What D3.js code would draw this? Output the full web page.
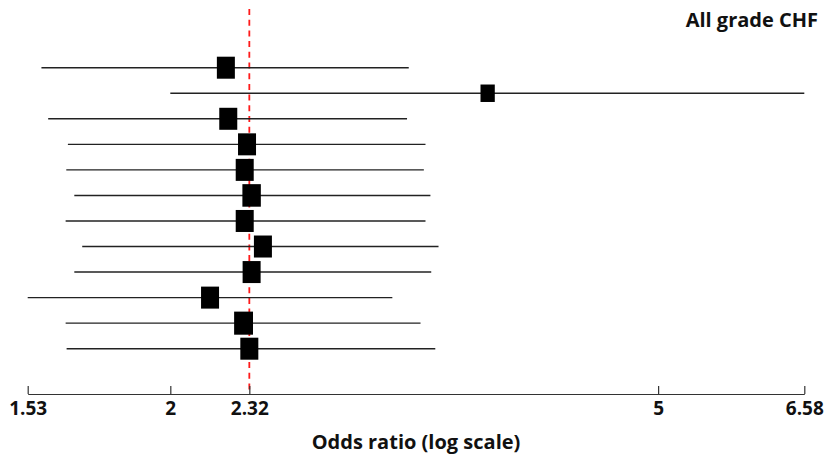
<!DOCTYPE html>
<html>
<head>
<meta charset="utf-8">
<script src="https://cdn.jsdelivr.net/npm/d3@7"></script>
<style>
  body { margin: 0; background: #fff; }
  svg { display: block; font-family: "Open Sans", Lato, sans-serif; }
  .ci { stroke: #222; stroke-width: 1.4; }
  .box { fill: #000; }
  .ref { stroke: #ff1a1a; stroke-width: 1.8; stroke-dasharray: 6 4.7; }
  .axis path, .axis line { stroke: #333; stroke-width: 1.2; }
  .axis text { font-family: "Open Sans", sans-serif; font-weight: 700; font-size: 19px; fill: #111; }
  .lbl { font-weight: 700; fill: #111; }
</style>
</head>
<body>
<svg id="forest" width="827" height="454"></svg>
<script>
// 数据
const rows    = ['1', '2', '3', '4', '5', '6', '7', '8', '9', '10', '11', '12'];
const orValue = [2.22, 3.63, 2.23, 2.31, 2.30, 2.33, 2.30, 2.38, 2.33, 2.155, 2.295, 2.32];
const ciLow   = [1.57, 2.00, 1.59, 1.65, 1.645, 1.67, 1.643, 1.695, 1.67, 1.53, 1.643, 1.646];
const ciHigh  = [3.13, 6.58, 3.12, 3.23, 3.22, 3.26, 3.23, 3.31, 3.265, 3.035, 3.20, 3.29];
const weights = [1, 0.63, 1, 1, 1, 1.05, 1, 1, 1, 1, 1.1, 1];
const pooled  = 2.32;
const tickVals = [1.53, 2, 2.32, 5, 6.58];

const data = rows.map((r, i) => ({
  row: r, or: orValue[i], lo: ciLow[i], hi: ciHigh[i], w: weights[i]
}));

const svg = d3.select('#forest');

const x = d3.scaleLog()
  .domain([1.53, 6.58])
  .range([27.7, 804.3]);
const y = d3.scalePoint()
  .domain(rows)
  .range([67.7, 348.7]);
const axisY = 394;

// 参考线
svg.append('line')
  .attr('class', 'ref')
  .attr('x1', x(pooled)).attr('x2', x(pooled))
  .attr('y1', 9).attr('y2', axisY);

// 置信区间
svg.selectAll('.ci')
  .data(data)
  .join('line')
    .attr('class', 'ci')
    .attr('x1', d => x(d.lo))
    .attr('x2', d => x(d.hi))
    .attr('y1', d => y(d.row))
    .attr('y2', d => y(d.row));

// 方块
const bw = 18, bh = 22;
svg.selectAll('.box')
  .data(data)
  .join('rect')
    .attr('class', 'box')
    .attr('x', d => x(d.or) - bw * Math.sqrt(d.w) / 2)
    .attr('y', d => y(d.row) - bh * Math.sqrt(d.w) / 2)
    .attr('width', d => bw * Math.sqrt(d.w))
    .attr('height', d => bh * Math.sqrt(d.w));

// x 轴
svg.append('g')
  .attr('class', 'axis')
  .attr('transform', `translate(0,${axisY})`)
  .call(d3.axisBottom(x)
    .tickValues(tickVals)
    .tickFormat(d => String(d))
    .tickSizeInner(-8)
    .tickSizeOuter(0)
    .tickPadding(8));

svg.append('text')
  .attr('class', 'lbl')
  .attr('x', (x.range()[0] + x.range()[1]) / 2)
  .attr('y', 449)
  .attr('text-anchor', 'middle')
  .style('font-size', '20px')
  .text('Odds ratio (log scale)');

svg.append('text')
  .attr('class', 'lbl')
  .attr('x', 818)
  .attr('y', 27)
  .attr('text-anchor', 'end')
  .style('font-size', '20px')
  .text('All grade CHF');
</script>
</body>
</html>
